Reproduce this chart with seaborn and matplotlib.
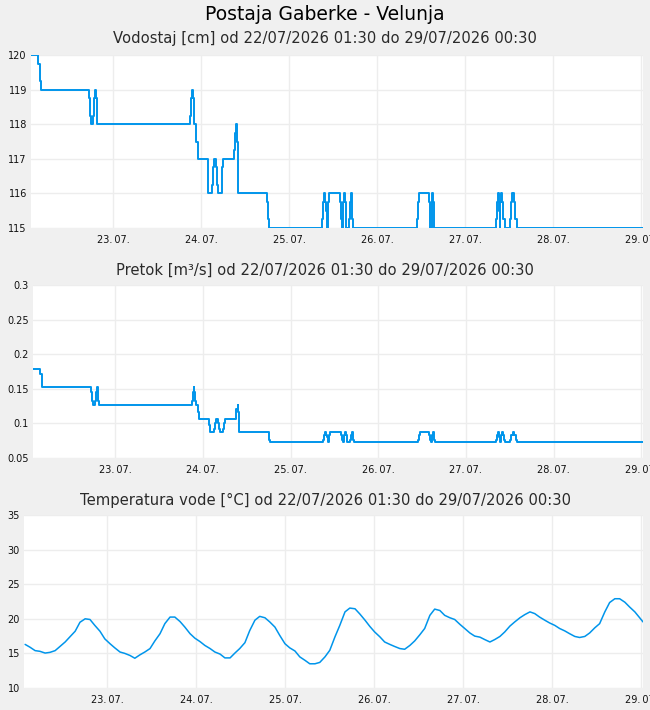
import matplotlib
matplotlib.use("Agg")
import matplotlib.pyplot as plt
import matplotlib.dates as mdates
import numpy as np
import pandas as pd
import seaborn as sns

# --- data -------------------------------------------------------------------
START = "2026-07-22 01:30"
END = "2026-07-29 00:30"

# water level [cm], step series: hours after START -> value
level_hours = [
    0, 2.0, 2.4, 2.6, 15.9, 16.2, 16.5, 17.0, 17.3, 17.5, 17.7, 17.9, 18.1,
    43.5, 43.7, 44.0, 44.2, 44.4, 44.5, 45.1, 45.5, 48.2, 48.4, 49.5, 49.7,
    50.0, 50.6, 50.8, 51.1, 52.0, 52.2, 52.5, 55.5, 55.7, 56.0, 56.2, 56.4,
    56.5, 64.5, 64.7, 64.9, 79.5, 79.7, 80.0, 80.3, 80.5, 80.8, 81.0, 81.3,
    84.4, 84.6, 84.9, 85.2, 85.5, 85.8, 86.0, 86.7, 87.0, 87.3, 87.5, 87.7,
    87.9, 105.3, 105.6, 105.9, 108.5, 108.8, 109.0, 109.3, 109.5, 109.7,
    109.9, 110.1, 126.8, 127.1, 127.4, 127.6, 127.9, 128.1, 128.3, 128.6,
    128.9, 129.3, 130.6, 130.9, 131.3, 131.8, 132.1, 132.5, 167.0,
]
level_cm = [
    120, 119.75, 119.25, 119, 118.75, 118.25, 118, 118.25, 118.75, 119, 118.75, 118.25, 118,
    118.25, 118.75, 119, 118.75, 118.25, 118, 117.5, 117, 116.5, 116, 116.25, 116.75,
    117, 116.75, 116.25, 116, 116.25, 116.75, 117, 117.25, 117.75, 118, 117.5, 116.5,
    116, 115.75, 115.25, 115, 115.25, 115.75, 116, 115.75, 115.5, 115, 115.75, 116,
    115.75, 115.25, 115, 115.75, 116, 115.75, 115, 115.25, 115.75, 116, 115.75, 115.25,
    115, 115.25, 115.75, 116, 115.75, 115.25, 115, 115.75, 116, 115.75,
    115.25, 115, 115.25, 115.75, 116, 115.5, 115, 115.75, 116, 115.75,
    115.25, 115, 115.25, 115.75, 116, 115.75, 115.25, 115, 115,
]
# discharge [m3/s], same time steps as the level
flow_m3s = [
    0.179, 0.172, 0.158, 0.152, 0.145, 0.132, 0.126, 0.132, 0.145, 0.152, 0.145, 0.132, 0.126,
    0.132, 0.145, 0.152, 0.145, 0.132, 0.126, 0.116, 0.106, 0.097, 0.087, 0.092, 0.101,
    0.106, 0.101, 0.092, 0.087, 0.092, 0.101, 0.106, 0.111, 0.121, 0.126, 0.116, 0.097,
    0.087, 0.083, 0.076, 0.073, 0.076, 0.083, 0.087, 0.083, 0.080, 0.073, 0.083, 0.087,
    0.083, 0.076, 0.073, 0.083, 0.087, 0.083, 0.073, 0.076, 0.083, 0.087, 0.083, 0.076,
    0.073, 0.076, 0.083, 0.087, 0.083, 0.076, 0.073, 0.083, 0.087, 0.083,
    0.076, 0.073, 0.076, 0.083, 0.087, 0.080, 0.073, 0.083, 0.087, 0.083,
    0.076, 0.073, 0.076, 0.083, 0.087, 0.083, 0.076, 0.073, 0.073,
]

# water temperature [°C]
temp_hours = [
    0.3, 1.6, 3.0, 4.3, 5.7, 7.0, 8.4, 9.7, 11.1, 12.4, 13.8, 15.1, 16.5, 17.8,
    19.1, 20.5, 21.8, 23.2, 24.5, 25.9, 27.2, 28.6, 29.9, 31.3, 32.6, 34.0,
    35.3, 36.7, 38.0, 39.4, 40.7, 42.1, 43.4, 44.8, 46.1, 47.5, 48.8, 50.2,
    51.5, 52.9, 54.2, 55.6, 56.9, 58.2, 59.6, 60.9, 62.3, 63.6, 65.0, 66.3,
    67.7, 69.0, 70.4, 71.7, 73.1, 74.4, 75.8, 77.1, 78.5, 79.8, 81.2, 82.5,
    83.9, 85.2, 86.6, 87.9, 89.3, 90.6, 92.0, 93.3, 94.6, 96.0, 97.3, 98.7,
    100.0, 101.4, 102.7, 104.1, 105.4, 106.8, 108.1, 109.5, 110.8, 112.2,
    113.5, 114.9, 116.2, 117.6, 118.9, 120.3, 121.6, 123.0, 124.3, 125.7,
    127.0, 128.4, 129.7, 131.1, 132.4, 133.8, 135.1, 136.5, 137.8, 139.1,
    140.5, 141.8, 143.2, 144.5, 145.9, 147.2, 148.6, 149.9, 151.3, 152.6,
    154.0, 155.3, 156.7, 158.0, 159.4, 160.7, 162.1, 163.4, 164.8, 166.1, 167.0,
]
temp_c = [
    16.3, 15.9, 15.4, 15.3, 15.05, 15.15, 15.4, 16.0, 16.65, 17.4, 18.2, 19.5, 20.0, 19.9,
    19.05, 18.2, 17.1, 16.4, 15.8, 15.2, 15.0, 14.7, 14.3, 14.8, 15.2, 15.7,
    16.8, 17.85, 19.3, 20.25, 20.25, 19.6, 18.8, 17.85, 17.2, 16.7, 16.15, 15.7,
    15.2, 14.9, 14.35, 14.35, 15.05, 15.7, 16.55, 18.3, 19.8, 20.35, 20.15, 19.55,
    18.8, 17.6, 16.4, 15.8, 15.35, 14.5, 14.0, 13.5, 13.5, 13.7, 14.5, 15.45,
    17.4, 19.05, 21.0, 21.55, 21.45, 20.7, 19.8, 18.9, 18.1, 17.4, 16.65, 16.3,
    16.0, 15.7, 15.6, 16.15, 16.8, 17.7, 18.6, 20.5, 21.4, 21.2,
    20.5, 20.15, 19.9, 19.2, 18.6, 17.95, 17.5, 17.35, 17.0, 16.65,
    17.0, 17.45, 18.1, 18.95, 19.55, 20.15, 20.6, 21.0, 20.75, 20.25,
    19.8, 19.4, 19.05, 18.6, 18.25, 17.85, 17.45, 17.3, 17.45, 17.95,
    18.7, 19.3, 21.0, 22.35, 22.9, 22.9, 22.4, 21.7, 21.0, 20.15, 19.55,
]

level_ticks = [115, 116, 117, 118, 119, 120]
flow_ticks = [0.05, 0.1, 0.15, 0.2, 0.25, 0.3]
temp_ticks = [10, 15, 20, 25, 30, 35]

TITLE = "Postaja Gaberke - Velunja"
SUBTITLES = [
    "Vodostaj [cm] od 22/07/2026 01:30 do 29/07/2026 00:30",
    "Pretok [m³/s] od 22/07/2026 01:30 do 29/07/2026 00:30",
    "Temperatura vode [°C] od 22/07/2026 01:30 do 29/07/2026 00:30",
]

LINE = "#0095eb"
BG = "#f0f0f0"
GRID = "#ededed"


def to_time(hours):
    return pd.Timestamp(START) + pd.to_timedelta(np.asarray(hours, dtype=float), unit="h")


level_df = pd.DataFrame({"time": to_time(level_hours), "level": level_cm, "flow": flow_m3s})
temp_df = pd.DataFrame({"time": to_time(temp_hours), "temp": temp_c})

sns.set_theme(style="whitegrid")
plt.rcParams["font.family"] = ["DejaVu Sans"]

W, H = 650, 710
fig = plt.figure(figsize=(W / 100, H / 100), dpi=100, facecolor=BG)


def px_axes(left, top, right, bottom):
    return fig.add_axes([left / W, 1 - bottom / H, (right - left) / W, (bottom - top) / H])


ax1 = px_axes(31, 55, 643, 228)
ax2 = px_axes(33, 285, 643, 458)
ax3 = px_axes(24, 515, 643, 688)

sns.lineplot(data=level_df, x="time", y="level", ax=ax1, color=LINE,
             lw=1.4, drawstyle="steps-post", estimator=None)
sns.lineplot(data=level_df, x="time", y="flow", ax=ax2, color=LINE,
             lw=1.4, drawstyle="steps-post", estimator=None)
sns.lineplot(data=temp_df, x="time", y="temp", ax=ax3, color=LINE,
             lw=1.1, estimator=None)

days = pd.date_range("2026-07-23", "2026-07-29", freq="D")
for ax, ticks in [(ax1, level_ticks), (ax2, flow_ticks), (ax3, temp_ticks)]:
    ax.set_facecolor("white")
    ax.set_xlim(pd.Timestamp(START), pd.Timestamp(END))
    ax.set_ylim(ticks[0], ticks[-1])
    ax.set_yticks(ticks)
    ax.set_yticklabels(["{:g}".format(t) for t in ticks])
    ax.set_xticks(days)
    ax.xaxis.set_major_formatter(mdates.DateFormatter("%d.\u2009%m."))
    ax.set_xlabel("")
    ax.set_ylabel("")
    ax.grid(True, color=GRID, lw=1.0)
    for s in ax.spines.values():
        s.set_visible(False)
    ax.tick_params(axis="both", length=0, labelsize=7, colors="#111111", pad=3)
    ax.tick_params(axis="x", pad=5)

fig.text(0.5, 1 - 14 / H, TITLE, ha="center", va="center", fontsize=13.5, color="#000000")
for y, txt in zip([39, 270, 500], SUBTITLES):
    fig.text(0.5, 1 - y / H, txt, ha="center", va="center", fontsize=10.6, color="#2a2a2a")

fig.savefig("out.png", dpi=100, facecolor=BG)
